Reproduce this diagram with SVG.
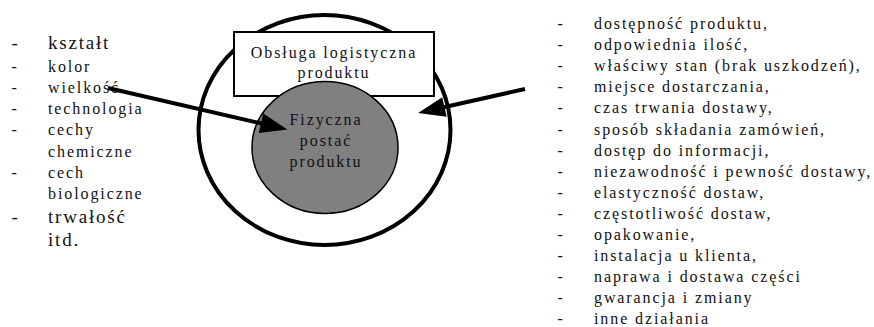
<svg xmlns="http://www.w3.org/2000/svg" width="874" height="327" viewBox="0 0 874 327">
<style>
text{font-family:"Liberation Serif","Times New Roman",serif;fill:#111;}
.t{font-size:16px;letter-spacing:1.9px;}
.big{font-size:19px;letter-spacing:1.8px;}
.c{text-anchor:middle;}
.conn{stroke:#000;stroke-width:4;fill:none;}
</style>
<defs>
<marker id="ah" markerUnits="userSpaceOnUse" markerWidth="30" markerHeight="24" refX="2" refY="0" viewBox="0 -12 30 24" orient="auto" overflow="visible">
<path d="M0,-10 L27,0 L0,10 z" fill="#000"/>
</marker>
</defs>
<rect width="874" height="327" fill="#fff"/>
<g id="outer-ring">
<ellipse cx="324.5" cy="130" rx="126" ry="115" fill="none" stroke="#000" stroke-width="4"/>
</g>
<g id="logistics-box">
<rect x="234" y="32" width="200" height="64" fill="#fff" stroke="#000" stroke-width="2"/>
<text class="t c" x="334" y="57.5">Obsługa logistyczna</text>
<text class="t c" x="334" y="77.5">produktu</text>
</g>
<g id="physical-core">
<ellipse cx="325" cy="147.5" rx="73" ry="66" fill="#808080" stroke="#000" stroke-width="1.5"/>
<text class="t c" x="326" y="124.5">Fizyczna</text>
<text class="t c" x="326" y="146">postać</text>
<text class="t c" x="326" y="167">produktu</text>
</g>
<g id="left-list">
<text class="big" x="11.5" y="49">-</text><text class="big" x="48" y="49">kształt</text>
<text class="t" x="11.5" y="71.5">-</text><text class="t" x="48" y="71.5">kolor</text>
<text class="t" x="11.5" y="92.8">-</text><text class="t" x="48" y="92.8">wielkość</text>
<text class="t" x="11.5" y="114.1">-</text><text class="t" x="48" y="114.1">technologia</text>
<text class="t" x="11.5" y="135.4">-</text><text class="t" x="48" y="135.4">cechy</text>
<text class="t" x="48" y="156.7">chemiczne</text>
<text class="t" x="11.5" y="178">-</text><text class="t" x="48" y="178">cech</text>
<text class="t" x="48" y="199.3">biologiczne</text>
<text class="big" x="11.5" y="222.7">-</text><text class="big" x="48" y="222.7">trwałość</text>
<text class="big" x="48" y="246">itd.</text>
</g>
<g id="right-list">
<text class="t" x="557.5" y="29">-</text><text class="t" x="594" y="29">dostępność produktu,</text>
<text class="t" x="557.5" y="50.1">-</text><text class="t" x="594" y="50.1">odpowiednia ilość,</text>
<text class="t" x="557.5" y="71.2">-</text><text class="t" x="594" y="71.2">właściwy stan (brak uszkodzeń),</text>
<text class="t" x="557.5" y="92.3">-</text><text class="t" x="594" y="92.3">miejsce dostarczania,</text>
<text class="t" x="557.5" y="113.4">-</text><text class="t" x="594" y="113.4">czas trwania dostawy,</text>
<text class="t" x="557.5" y="134.5">-</text><text class="t" x="594" y="134.5">sposób składania zamówień,</text>
<text class="t" x="557.5" y="155.6">-</text><text class="t" x="594" y="155.6">dostęp do informacji,</text>
<text class="t" x="557.5" y="176.7">-</text><text class="t" x="594" y="176.7">niezawodność i pewność dostawy,</text>
<text class="t" x="557.5" y="197.8">-</text><text class="t" x="594" y="197.8">elastyczność dostaw,</text>
<text class="t" x="557.5" y="218.9">-</text><text class="t" x="594" y="218.9">częstotliwość dostaw,</text>
<text class="t" x="557.5" y="240">-</text><text class="t" x="594" y="240">opakowanie,</text>
<text class="t" x="557.5" y="261.1">-</text><text class="t" x="594" y="261.1">instalacja u klienta,</text>
<text class="t" x="557.5" y="282.2">-</text><text class="t" x="594" y="282.2">naprawa i dostawa części</text>
<text class="t" x="557.5" y="303.3">-</text><text class="t" x="594" y="303.3">gwarancja i zmiany</text>
<text class="t" x="557.5" y="324.4">-</text><text class="t" x="594" y="324.4">inne działania</text>
</g>
<g id="connectors">
<line class="conn" x1="108" y1="88" x2="263" y2="123.8" marker-end="url(#ah)"/>
<line class="conn" x1="525" y1="89" x2="442.5" y2="107.5" marker-end="url(#ah)"/>
</g>
</svg>
